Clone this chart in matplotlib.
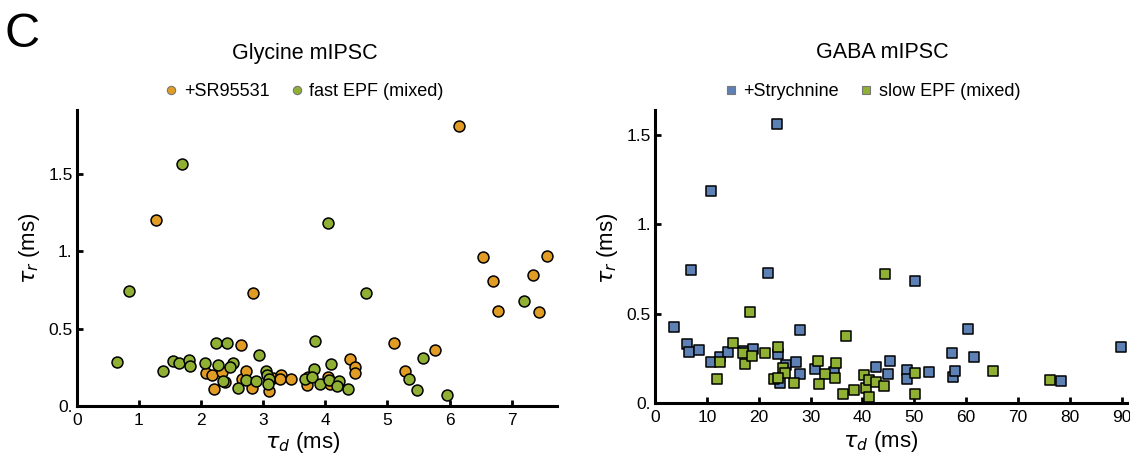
import matplotlib.pyplot as plt
from matplotlib.lines import Line2D

plt.rcParams['font.family'] = ['Liberation Sans', 'DejaVu Sans']
plt.rcParams['mathtext.fontset'] = 'dejavusans'

# Glycine mIPSC: tau_d (ms), tau_r (ms)
sr_td = [1.27, 6.15, 2.84, 6.53, 7.56, 7.35, 6.70, 6.78, 7.44, 5.11, 5.76, 5.28,
         2.08, 2.17, 2.20, 2.34, 2.38, 2.65, 2.66, 2.73, 2.82, 3.09, 3.16, 3.29,
         3.27, 3.45, 3.70, 3.72, 4.05, 4.07, 4.40, 4.48, 4.48]
sr_tr = [1.20, 1.81, 0.73, 0.964, 0.966, 0.843, 0.808, 0.614, 0.61, 0.405, 0.362, 0.224,
         0.211, 0.20, 0.112, 0.218, 0.153, 0.395, 0.175, 0.228, 0.116, 0.099, 0.179, 0.198,
         0.175, 0.173, 0.136, 0.19, 0.188, 0.142, 0.304, 0.254, 0.211]

fast_td = [1.70, 4.05, 0.84, 4.66, 7.20, 5.57, 5.35, 5.47, 5.96, 0.64, 1.39, 1.55,
           1.64, 1.81, 1.82, 2.07, 2.24, 2.27, 2.36, 2.42, 2.51, 2.46, 2.60, 2.73,
           2.88, 2.93, 3.05, 3.06, 3.09, 3.08, 3.68, 3.82, 3.79, 3.83, 3.92, 4.09,
           4.06, 4.22, 4.18, 4.37]
fast_tr = [1.565, 1.18, 0.744, 0.729, 0.681, 0.31, 0.177, 0.103, 0.069, 0.283, 0.228, 0.291,
           0.28, 0.298, 0.257, 0.276, 0.405, 0.267, 0.16, 0.41, 0.276, 0.254, 0.118, 0.168,
           0.162, 0.328, 0.228, 0.198, 0.173, 0.14, 0.175, 0.237, 0.186, 0.422, 0.144, 0.27,
           0.166, 0.162, 0.131, 0.11]

# GABA mIPSC
str_td = [23.5, 10.85, 6.94, 21.7, 50.2, 3.72, 27.9, 6.17, 6.49, 8.54, 10.8, 12.5,
          14.0, 17.1, 18.9, 23.8, 25.2, 24.1, 27.2, 27.9, 30.9, 34.5, 42.7, 45.0,
          45.4, 48.5, 48.5, 52.9, 57.2, 57.5, 57.8, 60.3, 61.5, 78.2, 89.8]
str_tr = [1.56, 1.186, 0.743, 0.728, 0.681, 0.425, 0.406, 0.333, 0.287, 0.294, 0.231, 0.255,
          0.283, 0.292, 0.30, 0.274, 0.214, 0.11, 0.231, 0.162, 0.188, 0.175, 0.203, 0.16,
          0.235, 0.184, 0.132, 0.175, 0.278, 0.147, 0.179, 0.412, 0.259, 0.123, 0.311]

slow_td = [44.4, 18.4, 12.5, 12.0, 15.1, 16.9, 17.3, 18.8, 21.3, 23.8, 24.6, 25.0,
           22.9, 23.7, 26.8, 31.5, 32.8, 31.7, 35.0, 34.7, 36.3, 36.8, 38.3, 40.3,
           40.7, 41.2, 41.3, 42.6, 44.1, 50.2, 50.2, 65.2, 76.1]
slow_tr = [0.724, 0.51, 0.227, 0.132, 0.337, 0.278, 0.218, 0.264, 0.278, 0.315, 0.194, 0.17,
           0.136, 0.14, 0.11, 0.236, 0.162, 0.104, 0.225, 0.138, 0.049, 0.374, 0.073, 0.156,
           0.082, 0.128, 0.035, 0.116, 0.095, 0.17, 0.049, 0.179, 0.128]

BLUE = '#5E81B5'
ORANGE = '#E19C24'
GREEN = '#8FB032'

fig = plt.figure(figsize=(11.3, 4.58), dpi=100)
ax1 = fig.add_axes([0.068, 0.1135, 0.425, 0.646])
ax2 = fig.add_axes([0.5796, 0.12, 0.4177, 0.64])


def style(ax):
    for s in ['top', 'right']:
        ax.spines[s].set_visible(False)
    for s in ['left', 'bottom']:
        ax.spines[s].set_linewidth(2.2)
    ax.tick_params(direction='in', length=4, width=2, labelsize=12.5, pad=3)
    ax.tick_params(axis='x', pad=5)
    ax.set_yticks([0, 0.5, 1.0, 1.5])
    ax.set_yticklabels(['0.', '0.5', '1.', '1.5'])
    ax.set_xlabel(r'$\tau_d$ (ms)', fontsize=16)
    ax.set_ylabel(r'$\tau_r$ (ms)', fontsize=16)


ax1.scatter(sr_td, sr_tr, s=62, marker='o', color=ORANGE, edgecolor='black',
            linewidth=1.1, zorder=3, clip_on=False)
ax1.scatter(fast_td, fast_tr, s=62, marker='o', color=GREEN, edgecolor='black',
            linewidth=1.1, zorder=3, clip_on=False)
ax1.set_xlim(0, 7.73)
ax1.set_ylim(0, 1.91)
ax1.set_xticks(range(0, 8))
style(ax1)
ax1.xaxis.set_label_coords(0.47, -0.082)
ax1.yaxis.set_label_coords(-0.073, 0.534)

ax2.scatter(str_td, str_tr, s=58, marker='s', color=BLUE, edgecolor='black',
            linewidth=1.1, zorder=3, clip_on=False)
ax2.scatter(slow_td, slow_tr, s=58, marker='s', color=GREEN, edgecolor='black',
            linewidth=1.1, zorder=3, clip_on=False)
ax2.set_xlim(0, 91)
ax2.set_ylim(0, 1.64)
ax2.set_xticks(range(0, 91, 10))
style(ax2)
ax2.xaxis.set_label_coords(0.479, -0.088)
ax2.yaxis.set_label_coords(-0.074, 0.53)

# titles and legends above each panel
fig.text(305 / 1130, 1 - 53 / 458, 'Glycine mIPSC', fontsize=15.5, ha='center', va='center')
fig.text(882 / 1130, 1 - 53 / 458, 'GABA mIPSC', fontsize=15.5, ha='center', va='center')

h1 = [Line2D([], [], ls='none', marker='o', ms=6, mfc=ORANGE, mec='#777777', mew=0.8),
      Line2D([], [], ls='none', marker='o', ms=6, mfc=GREEN, mec='#777777', mew=0.8)]
fig.legend(h1, ['+SR95531', 'fast EPF (mixed)'], loc='center',
           bbox_to_anchor=(302 / 1130, 1 - 92 / 458), ncol=2, frameon=False, fontsize=13,
           handletextpad=0.1, columnspacing=0.9, handlelength=1.2, borderpad=0)
h2 = [Line2D([], [], ls='none', marker='s', ms=5.5, mfc=BLUE, mec='#777777', mew=0.8),
      Line2D([], [], ls='none', marker='s', ms=5.5, mfc=GREEN, mec='#777777', mew=0.8)]
fig.legend(h2, ['+Strychnine', 'slow EPF (mixed)'], loc='center',
           bbox_to_anchor=(870 / 1130, 1 - 92 / 458), ncol=2, frameon=False, fontsize=13,
           handletextpad=0.1, columnspacing=0.9, handlelength=1.2, borderpad=0)

fig.text(0.004, 1 - 12 / 458, 'C', fontsize=35, va='top', ha='left')

fig.savefig('out.png', dpi=100)
